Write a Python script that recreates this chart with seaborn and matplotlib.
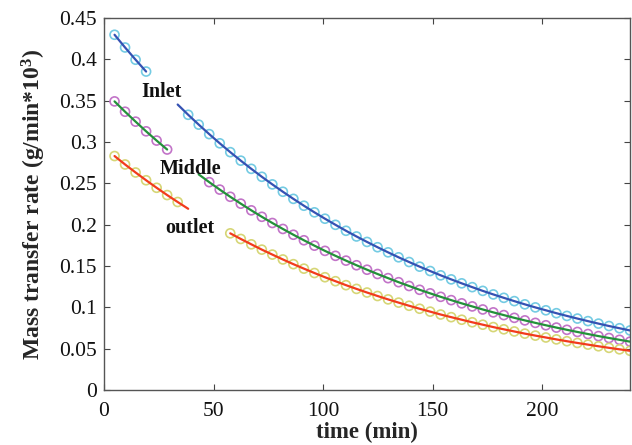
import numpy as np
import pandas as pd
import matplotlib
matplotlib.use("Agg")
import matplotlib.pyplot as plt
import seaborn as sns

# sampling times (min)
time = np.round(np.arange(1, 51) * 4.8, 1)

inlet = [0.4297, 0.4143, 0.3995, 0.3852, 0.3714, 0.3581, 0.3453, 0.3329, 0.3210, 0.3095,
         0.2984, 0.2877, 0.2774, 0.2675, 0.2579, 0.2487, 0.2398, 0.2312, 0.2229, 0.2149,
         0.2072, 0.1998, 0.1926, 0.1857, 0.1791, 0.1727, 0.1665, 0.1605, 0.1548, 0.1492,
         0.1439, 0.1387, 0.1338, 0.1290, 0.1244, 0.1199, 0.1156, 0.1115, 0.1075, 0.1036,
         0.0999, 0.0964, 0.0929, 0.0896, 0.0864, 0.0833, 0.0803, 0.0774, 0.0747, 0.0720]

middle = [0.3491, 0.3366, 0.3246, 0.3129, 0.3017, 0.2909, 0.2805, 0.2705, 0.2608, 0.2514,
          0.2424, 0.2337, 0.2254, 0.2173, 0.2095, 0.2020, 0.1948, 0.1878, 0.1811, 0.1746,
          0.1683, 0.1623, 0.1565, 0.1509, 0.1455, 0.1403, 0.1353, 0.1304, 0.1258, 0.1212,
          0.1169, 0.1127, 0.1087, 0.1048, 0.1011, 0.0974, 0.0939, 0.0906, 0.0873, 0.0842,
          0.0812, 0.0783, 0.0755, 0.0728, 0.0702, 0.0677, 0.0652, 0.0629, 0.0607, 0.0585]

outlet = [0.2830, 0.2728, 0.2631, 0.2537, 0.2446, 0.2358, 0.2274, 0.2192, 0.2114, 0.2038,
          0.1965, 0.1895, 0.1827, 0.1762, 0.1698, 0.1638, 0.1579, 0.1522, 0.1468, 0.1415,
          0.1364, 0.1316, 0.1268, 0.1223, 0.1179, 0.1137, 0.1096, 0.1057, 0.1019, 0.0983,
          0.0948, 0.0913, 0.0881, 0.0850, 0.0819, 0.0790, 0.0761, 0.0734, 0.0708, 0.0682,
          0.0658, 0.0635, 0.0612, 0.0590, 0.0569, 0.0549, 0.0529, 0.0510, 0.0492, 0.0474]

names = ["Inlet", "Middle", "outlet"]
xticks = [0, 50, 100, 150, 200]
yticks = [0, 0.05, 0.1, 0.15, 0.2, 0.25, 0.3, 0.35, 0.4, 0.45]
ytick_labels = ["0", "0.05", "0.1", "0.15", "0.2", "0.25", "0.3", "0.35", "0.4", "0.45"]

sns.set_theme(style="ticks")
plt.rcParams["font.family"] = ["Liberation Serif", "DejaVu Serif"]
plt.rcParams["mathtext.fontset"] = "custom"
plt.rcParams["mathtext.rm"] = "Liberation Serif:bold"
plt.rcParams["mathtext.bf"] = "Liberation Serif:bold"
plt.rcParams["mathtext.it"] = "Liberation Serif:bold"

fig = plt.figure(figsize=(6.32, 4.45), dpi=100)
ax = fig.add_axes([0.1646, 0.1236, 0.8323, 0.836])

# line colour, marker colour, index ranges of the drawn line pieces and markers,
# and the position of the curve's label
styles = {
    "Inlet":  dict(values=inlet, line="#3552b3", mark="#74cbe3",
                   lines=[(0, 4), (6, 50)], marks=[(0, 4), (7, 50)],
                   label_xy=(16.9, 0.355)),
    "Middle": dict(values=middle, line="#23913a", mark="#c274c8",
                   lines=[(0, 6), (8, 50)], marks=[(0, 6), (9, 50)],
                   label_xy=(25.3, 0.2615)),
    "outlet": dict(values=outlet, line="#f23b1c", mark="#d6d676",
                   lines=[(0, 8), (11, 50)], marks=[(0, 7), (11, 50)],
                   label_xy=(28.0, 0.190)),
}

for name in names:
    st = styles[name]
    df = pd.DataFrame({"time": time, "rate": st["values"]})
    for a, b in st["marks"]:
        seg = df.iloc[a:b]
        sns.scatterplot(data=seg, x="time", y="rate", ax=ax, marker="o", s=42,
                        facecolors="none", edgecolor=st["mark"], linewidth=1.2,
                        zorder=2, legend=False)
    for a, b in st["lines"]:
        seg = df.iloc[a:b]
        sns.lineplot(data=seg, x="time", y="rate", ax=ax, color=st["line"],
                     linewidth=1.6, zorder=3, legend=False)
    ax.text(st["label_xy"][0], st["label_xy"][1], name, fontsize=14.5,
            fontweight="bold", ha="left", va="baseline", color="#111111")

ax.set_xlim(0, 240)
ax.set_ylim(0, 0.45)
ax.set_xticks(xticks)
ax.set_xticklabels([str(v) for v in xticks])
ax.set_yticks(yticks)
ax.set_yticklabels(ytick_labels)
ax.tick_params(direction="in", length=4, width=0.8, colors="#444444",
               labelcolor="#111111", labelsize=15.5, top=True, right=True, pad=5)
ax.tick_params(axis="x", pad=9)
for sp in ax.spines.values():
    sp.set_visible(True)
    sp.set_color("#555555")
    sp.set_linewidth(1.0)

ax.set_xlabel("time (min)", fontsize=16.5, fontweight="bold", labelpad=0)
ax.set_ylabel("Mass transfer rate (g/min*10$^{\\mathbf{3}}$)", fontsize=17,
              fontweight="bold", labelpad=8)

fig.savefig("out.png", dpi=100, facecolor="white")
